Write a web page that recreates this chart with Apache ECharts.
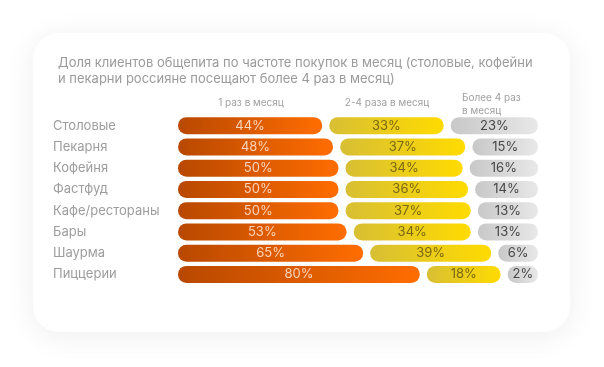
<!DOCTYPE html>
<html>
<head>
<meta charset="utf-8">
<script src="https://cdn.jsdelivr.net/npm/echarts@6/dist/echarts.min.js"></script>
<style>
html,body{margin:0;padding:0;background:#ffffff;}
#chart{width:604px;height:367px;}
</style>
</head>
<body>
<div id="chart"></div>
<script>
// ---- data ----
const categories = ['Столовые','Пекарня','Кофейня','Фастфуд','Кафе/рестораны','Бары','Шаурма','Пиццерии'];
const onceMonth = [44,48,50,50,50,53,65,80];
const twoFourMonth = [33,37,34,36,37,34,39,18];
const moreFourMonth = [23,15,16,14,13,13,6,2];
const seriesNames = ['1 раз в месяц','2-4 раза в месяц','Более 4 раз\nв месяц'];
const titleText = 'Доля клиентов общепита по частоте покупок в месяц (столовые, кофейни\nи пекарни россияне посещают более 4 раз в месяц)';

// ---- presentation constants ----
const PAD = 9.2;   // minimum pill length (axis units) so labels fit
const GAP = 2.6;   // white gap between pills (axis units)
const FONT = 'Inter, "Noto Sans", sans-serif';

const rowTotal = categories.map((c,i)=> onceMonth[i]+twoFourMonth[i]+moreFourMonth[i]);
const share = (arr) => arr.map((v,i)=> v/rowTotal[i]*100 + PAD);

function grad(c0,c1){
  return new echarts.graphic.LinearGradient(0,0,1,0,[{offset:0,color:c0},{offset:1,color:c1}]);
}
function barSeries(name, raw, c0, c1, labelColor){
  return {
    name, type:'bar', stack:'row', barWidth:17,
    data: share(raw),
    itemStyle:{ color: grad(c0,c1), borderRadius: 9 },
    label:{ show:true, position:'inside', color:labelColor, fontSize:13, fontFamily:FONT,
      formatter:(p)=> raw[p.dataIndex] + '%' },
    emphasis:{disabled:true}
  };
}
function gapSeries(){
  return { type:'bar', stack:'row', barWidth:17, silent:true,
    data: categories.map(()=>GAP), itemStyle:{color:'rgba(0,0,0,0)'}, label:{show:false} };
}

const chart = echarts.init(document.getElementById('chart'), null, {renderer:'canvas'});
chart.setOption({
  animation:false,
  backgroundColor:'#ffffff',
  title:{ text:titleText, left:53, top:50,
    textStyle:{ fontSize:13, fontWeight:'normal', color:'#9b9b9b', lineHeight:16, fontFamily:FONT } },
  graphic:[
    { type:'rect', z:-10, shape:{x:33,y:33,width:537,height:299,r:26},
      style:{fill:'#ffffff', shadowBlur:30, shadowColor:'rgba(0,0,0,0.07)', shadowOffsetY:4} },
    { type:'text', x:251, y:103, style:{ text:seriesNames[0], fill:'#a0a0a0', fontSize:10, fontFamily:FONT, align:'center', verticalAlign:'middle' } },
    { type:'text', x:387, y:103, style:{ text:seriesNames[1], fill:'#a0a0a0', fontSize:10, fontFamily:FONT, align:'center', verticalAlign:'middle' } },
    { type:'text', x:462, y:104, style:{ text:seriesNames[2], fill:'#a0a0a0', fontSize:10, fontFamily:FONT, align:'left', verticalAlign:'middle', lineHeight:13 } }
  ],
  grid:{ left:178, right:66, top:115, bottom:82, containLabel:false },
  xAxis:{ type:'value', min:0, max:100 + 3*PAD + 2*GAP, show:false },
  yAxis:{ type:'category', data:categories, inverse:true,
    axisLine:{show:false}, axisTick:{show:false},
    axisLabel:{ align:'left', margin:125, color:'#9d9d9d', fontSize:13, fontFamily:FONT } },
  series:[
    barSeries(seriesNames[0], onceMonth, '#b84800', '#ff6d00', '#fbd5bb'),
    gapSeries(),
    barSeries(seriesNames[1], twoFourMonth, '#d8bf34', '#ffdb00', '#7a6812'),
    gapSeries(),
    barSeries(seriesNames[2], moreFourMonth, '#c8c8c8', '#e8e8e8', '#474747')
  ]
});
</script>
</body>
</html>
